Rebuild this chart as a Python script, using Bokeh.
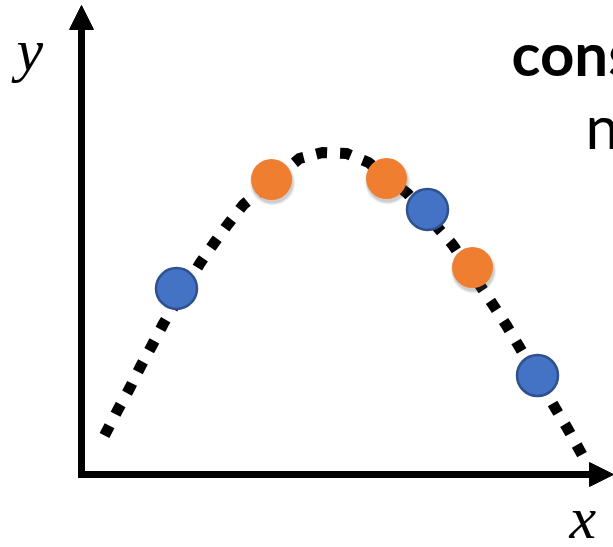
from bokeh.plotting import figure
from bokeh.models import Range1d, Arrow, NormalHead
from bokeh.core.properties import value
from bokeh.embed import file_html
from bokeh.resources import INLINE

# Dotted trend curve through the samples
curve_x = [23, 37, 48, 59, 71, 82, 119, 133, 147, 162, 218, 241, 265, 287,
           326, 371, 412, 425, 437, 474, 486, 501]
curve_y = [39, 66, 86, 108, 130, 151, 212, 232, 251, 270, 316, 322, 321, 312,
           281, 230, 169, 149, 129, 66, 46, 19]

# Two groups of sample points
blue_x = [95, 346, 456]
blue_y = [186, 265, 99]
orange_x = [190, 305, 391]
orange_y = [295, 296, 207]

# Axis extents (arrow tips)
x_axis_end = 532
y_axis_end = 469

p = figure(width=613, height=547,
           x_range=Range1d(-81, 532), y_range=Range1d(-73, 474),
           output_backend="svg", toolbar_location=None,
           x_axis_type=None, y_axis_type=None,
           min_border=0, min_border_left=0, min_border_right=0,
           min_border_top=0, min_border_bottom=0)
p.grid.visible = False
p.outline_line_color = None
p.background_fill_color = "white"
p.border_fill_color = "white"

# Axes drawn as arrows from the origin
head_kw = dict(size=24, fill_color="black", line_color="black", line_width=1)
p.add_layout(Arrow(end=NormalHead(**head_kw), x_start=0, y_start=-3.5,
                   x_end=0, y_end=y_axis_end, line_width=7, line_color="black"))
p.add_layout(Arrow(end=NormalHead(**head_kw), x_start=-3.5, y_start=0,
                   x_end=x_axis_end, y_end=0, line_width=7, line_color="black"))

# Dotted curve
p.line(curve_x, curve_y, line_color="black", line_width=11,
       line_dash="11 13", line_cap="butt", line_join="miter")

# Soft shadow under the orange points
for r, a in [(23, 0.06), (22, 0.10), (21, 0.16)]:
    p.circle([x + 1 for x in orange_x], [y - 3 for y in orange_y], radius=r,
             fill_color="#555555", fill_alpha=a, line_color=None)

p.circle(orange_x, orange_y, radius=20.5, fill_color="#F07E31", line_color=None)
p.circle(blue_x, blue_y, radius=20.5, fill_color="#4472C4",
         line_color="#2F528F", line_width=2.5)

# Axis labels
serif = dict(text_font=value("Liberation Serif"), text_font_style="italic",
             text_font_size="60px", text_baseline="alphabetic",
             text_align="left", text_color="black")
p.text(x=[-65], y=[425], text=["y"], **serif)
p.text(x=[488], y=[-43], text=["x"], **serif)

# Side caption
p.text(x=[430], y=[422], text=["cons"], text_font=value("Lato"),
       text_font_style="bold", text_font_size="60px",
       text_baseline="alphabetic", text_align="left", text_color="black")
p.text(x=[504], y=[349], text=["n"], text_font=value("Lato"),
       text_font_size="60px",
       text_baseline="alphabetic", text_align="left", text_color="black")

open("out.html", "w").write(file_html(p, INLINE))
